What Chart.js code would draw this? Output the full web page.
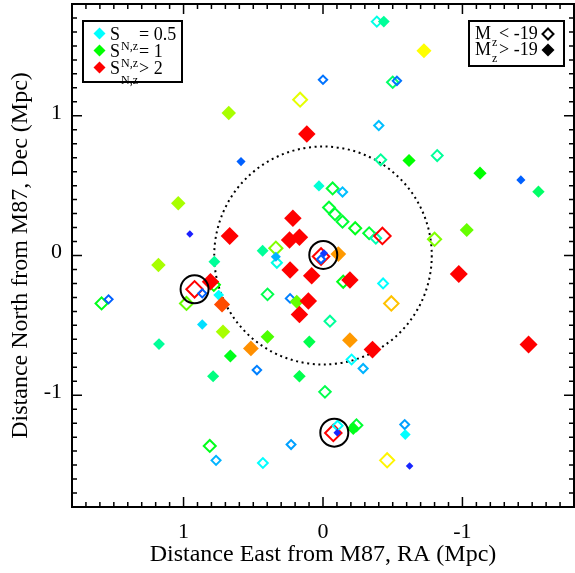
<!DOCTYPE html>
<html>
<head>
<meta charset="utf-8">
<script src="https://cdn.jsdelivr.net/npm/chart.js@4.4.1/dist/chart.umd.min.js"></script>
<style>
  html, body { margin: 0; padding: 0; background: #fff; }
  #wrap { width: 575px; height: 573px; }
</style>
</head>
<body>
<div id="wrap"><canvas id="chart"></canvas></div>
<script>
// ===== Data (Mpc offsets from M87; S_N,z per galaxy) =====
// Bright galaxies, M_z < -19 (open diamonds)
const brightX = [-0.386, 0.0, 0.164, -0.50, -0.53, -0.40, -0.414, -0.819, -0.069, -0.14,
  -0.043, -0.086, -0.14, -0.231, -0.331, -0.379, -0.426, -0.80, 0.338, 0.331,
  0.014, 0.014, 0.921, 0.783, 0.866, 0.979, 1.588, 1.538, 0.474, -0.145,
  -0.431, 0.398, 0.236, -0.49, -0.05, -0.205, -0.288, -0.014, 0.812, 0.767,
  0.431, 0.229, -0.074, -0.105, -0.24, -0.586, -0.46];
const brightY = [1.674, 1.258, 1.115, 1.24, 1.25, 0.93, 0.685, 0.715, 0.48, 0.455,
  0.343, 0.295, 0.242, 0.195, 0.159, 0.123, 0.14, 0.116, 0.052, -0.052,
  -0.007, -0.027, -0.242, -0.21, -0.271, -0.343, -0.343, -0.314, -0.82, -0.188,
  -0.2, -0.278, -0.307, -0.343, -0.47, -0.744, -0.809, -0.976, -1.363, -1.466,
  -1.485, -1.353, -1.27, -1.218, -1.215, -1.21, -1.466];
const brightS = [0.55, 0.28, 1.45, 0.8, 0.28, 0.4, 0.7, 0.7, 0.9, 0.4,
  0.9, 0.9, 0.9, 0.95, 0.9, 0.65, 2.3, 1.25, 1.25, 0.55,
  2.3, 0.25, 2.3, 1.0, 0.25, 1.2, 0.95, 0.25, 0.3, 0.95,
  0.5, 0.85, 0.3, 1.62, 0.7, 0.5, 0.38, 0.85, 0.95, 0.38,
  0.5, 0.35, 2.3, 0.5, 0.9, 0.35, 1.52];

// Faint galaxies, M_z > -19 (filled diamonds)
const faintX = [0.676, -0.724, -0.436, 0.588, 1.038, 0.955, 0.669, 1.18, 0.779, 0.433,
  0.116, -0.617, 0.029, 0.216, 0.24, 0.169, 0.338, 0.236, -0.11, -0.007,
  -1.126, -1.419, -1.545, -1.031, -0.974, 0.807, 0.748, 0.724, 0.866, 0.717,
  1.176, 0.517, 0.664, 0.788, 0.081, -0.193, 0.188, 0.105, 0.169, 0.398,
  0.098, -0.193, -0.355, 0.169, -1.474, -0.102, -0.217, -0.59, -0.621];
const faintY = [1.02, 1.466, 1.674, 0.672, 0.374, 0.154, 0.14, -0.068, -0.044, 0.034,
  0.869, 0.68, 0.498, 0.267, 0.111, 0.13, -0.009, -0.104, 0.01, 0.016,
  0.589, 0.541, 0.457, 0.183, -0.133, -0.188, -0.283, -0.35, -0.493, -0.546,
  -0.634, -0.665, -0.72, -0.864, -0.145, -0.176, -0.331, -0.326, -0.422, -0.582,
  -0.618, -0.606, -0.673, -0.864, -0.637, -1.268, -1.239, -1.282, -1.507];
const faintS = [1.33, 1.5, 0.7, 0.25, 1.33, 0.08, 2.5, 1.33, 0.7, 0.7,
  2.3, 1.0, 0.58, 2.3, 2.3, 2.3, 0.38, 2.3, 1.7, 0.15,
  1.0, 0.25, 0.8, 1.2, 2.5, 2.3, 0.5, 1.85, 0.45, 1.33,
  0.7, 1.72, 0.95, 0.75, 2.3, 2.3, 1.2, 2.3, 2.3, 1.15,
  0.85, 1.7, 2.4, 0.85, 2.5, 0.1, 0.95, 0.5, 0.1];

// Highlighted galaxies (black rings)
const ringX = [-0.002, 0.921, -0.081];
const ringY = [0.004, -0.242, -1.268];

// Dotted circle around M87 (Mpc)
const CIRCLE_RADIUS = 0.78;

const AXIS_MIN = -1.8;
const AXIS_MAX = 1.8;
const FONT = "'Liberation Serif', 'Times New Roman', serif";

// ===== Colour / size scale for S_N,z =====
const S_STOPS = [
  [0.0, [40, 0, 255]],
  [0.25, [0, 96, 255]],
  [0.5, [0, 255, 255]],
  [1.0, [0, 255, 0]],
  [1.5, [255, 255, 0]],
  [2.0, [255, 0, 0]]
];

function sColour(s) {
  if (s <= S_STOPS[0][0]) return `rgb(${S_STOPS[0][1].join(',')})`;
  for (let i = 1; i < S_STOPS.length; i++) {
    const [s1, c1] = S_STOPS[i];
    const [s0, c0] = S_STOPS[i - 1];
    if (s <= s1) {
      const t = (s - s0) / (s1 - s0);
      const c = c0.map((v, k) => Math.round(v + t * (c1[k] - v)));
      return `rgb(${c.join(',')})`;
    }
  }
  return `rgb(${S_STOPS[S_STOPS.length - 1][1].join(',')})`;
}

function sRadius(s) {
  return 2.5 + 6.5 * Math.sqrt(Math.min(s, 2.5) / 2.5);
}

const zip = (xs, ys) => xs.map((x, i) => ({ x, y: ys[i] }));

// fixed axis box, no label padding pushed onto the plot area
function fixBox(size, key) {
  return (s) => {
    s[key] = size;
    s.paddingTop = 0; s.paddingBottom = 0;
    s.paddingLeft = 0; s.paddingRight = 0;
  };
}

// ===== Plugin: frame, inside ticks, dotted circle, legends =====
function diamond(ctx, x, y, r) {
  ctx.beginPath();
  ctx.moveTo(x, y - r);
  ctx.lineTo(x + r, y);
  ctx.lineTo(x, y + r);
  ctx.lineTo(x - r, y);
  ctx.closePath();
}

const decorations = {
  id: 'decorations',
  beforeDatasetsDraw(chart) {
    const { ctx, scales: { x, y } } = chart;
    const cx = x.getPixelForValue(0);
    const cy = y.getPixelForValue(0);
    const rx = Math.abs(x.getPixelForValue(CIRCLE_RADIUS) - cx);
    const ry = Math.abs(y.getPixelForValue(CIRCLE_RADIUS) - cy);
    ctx.save();
    ctx.strokeStyle = '#000';
    ctx.lineWidth = 2;
    ctx.setLineDash([2, 3.6]);
    ctx.beginPath();
    ctx.ellipse(cx, cy, rx, ry, 0, 0, Math.PI * 2);
    ctx.stroke();
    ctx.restore();
  },
  afterDatasetsDraw(chart) {
    const { ctx, chartArea: a, scales: { x, y } } = chart;
    ctx.save();
    ctx.strokeStyle = '#000';
    ctx.lineWidth = 1.5;
    ctx.beginPath();
    for (let i = -17; i <= 17; i++) {
      const v = i / 10;
      const len = i % 10 === 0 ? 10 : 5;
      const px = x.getPixelForValue(v);
      const py = y.getPixelForValue(v);
      ctx.moveTo(px, a.bottom); ctx.lineTo(px, a.bottom - len);
      ctx.moveTo(px, a.top); ctx.lineTo(px, a.top + len);
      ctx.moveTo(a.left, py); ctx.lineTo(a.left + len, py);
      ctx.moveTo(a.right, py); ctx.lineTo(a.right - len, py);
    }
    ctx.stroke();
    ctx.lineWidth = 2;
    ctx.strokeRect(a.left, a.top, a.right - a.left, a.bottom - a.top);
    ctx.restore();
  },
  afterDraw(chart) {
    const { ctx } = chart;
    ctx.save();
    ctx.strokeStyle = '#000';
    ctx.fillStyle = '#000';
    ctx.lineWidth = 2;
    ctx.textBaseline = 'alphabetic';

    // S_N,z legend
    ctx.strokeRect(83, 21, 99, 61);
    const sRows = [
      { s: 0.5, text: '= 0.5', base: 40 },
      { s: 1.0, text: '= 1', base: 57 },
      { s: 2.5, text: '> 2', base: 74 }
    ];
    sRows.forEach(r => {
      ctx.fillStyle = sColour(r.s);
      diamond(ctx, 99.5, r.base - 6.5, 6);
      ctx.fill();
      ctx.fillStyle = '#000';
      ctx.font = `18px ${FONT}`;
      ctx.fillText('S', 110, r.base);
      ctx.fillText(r.text, 139, r.base);
      ctx.font = `12px ${FONT}`;
      ctx.fillText('N,z', 121, r.base + 10);
    });

    // M_z legend
    ctx.strokeRect(469, 21, 95, 45);
    const mRows = [
      { text: '< -19', base: 39, filled: false },
      { text: '> -19', base: 55, filled: true }
    ];
    mRows.forEach(r => {
      ctx.font = `18px ${FONT}`;
      ctx.fillText('M', 475, r.base);
      ctx.fillText(r.text, 499, r.base);
      ctx.font = `12px ${FONT}`;
      ctx.fillText('z', 492, r.base + 7);
      diamond(ctx, 548, r.base - 5, r.filled ? 6.5 : 5.5);
      if (r.filled) ctx.fill(); else ctx.stroke();
    });
    ctx.restore();
  }
};

// ===== Chart =====
new Chart(document.getElementById('chart'), {
  type: 'scatter',
  data: {
    datasets: [
      {
        label: 'rings',
        data: zip(ringX, ringY),
        pointStyle: 'circle',
        pointRadius: 14,
        pointBorderWidth: 2,
        pointBorderColor: '#000',
        pointBackgroundColor: 'rgba(0,0,0,0)',
        order: 0
      },
      {
        label: 'M_z > -19',
        data: zip(faintX, faintY),
        pointStyle: 'rectRot',
        pointRadius: faintS.map(sRadius),
        pointBorderWidth: 0,
        pointBackgroundColor: faintS.map(sColour),
        pointBorderColor: faintS.map(sColour),
        order: 1
      },
      {
        label: 'M_z < -19',
        data: zip(brightX, brightY),
        pointStyle: 'rectRot',
        pointRadius: brightS.map(s => sRadius(s) - 0.5),
        pointBorderWidth: 2,
        pointBackgroundColor: 'rgba(0,0,0,0)',
        pointBorderColor: brightS.map(sColour),
        order: 2
      }
    ]
  },
  options: {
    responsive: true,
    maintainAspectRatio: false,
    animation: false,
    events: [],
    layout: { autoPadding: false, padding: { top: 4, right: 1, left: 0, bottom: 0 } },
    plugins: { legend: { display: false }, tooltip: { enabled: false } },
    scales: {
      x: {
        type: 'linear',
        reverse: true,
        min: AXIS_MIN,
        max: AXIS_MAX,
        afterFit: fixBox(66, 'height'),
        grid: { display: false, drawTicks: false },
        border: { display: false },
        ticks: {
          stepSize: 1,
          includeBounds: false,
          color: '#000',
          padding: 12,
          maxRotation: 0,
          font: { family: FONT, size: 22 }
        },
        title: {
          display: true,
          text: 'Distance East from M87, RA (Mpc)',
          color: '#000',
          font: { family: FONT, size: 24 },
          padding: { top: 0, bottom: 4 }
        }
      },
      y: {
        type: 'linear',
        min: AXIS_MIN,
        max: AXIS_MAX,
        afterFit: fixBox(72, 'width'),
        grid: { display: false, drawTicks: false },
        border: { display: false },
        ticks: {
          stepSize: 1,
          includeBounds: false,
          color: '#000',
          padding: 10,
          labelOffset: -3,
          font: { family: FONT, size: 22 }
        },
        title: {
          display: true,
          text: 'Distance North from M87, Dec (Mpc)',
          color: '#000',
          font: { family: FONT, size: 24 },
          padding: { top: 6, bottom: 0 }
        }
      }
    }
  },
  plugins: [decorations]
});
</script>
</body>
</html>
